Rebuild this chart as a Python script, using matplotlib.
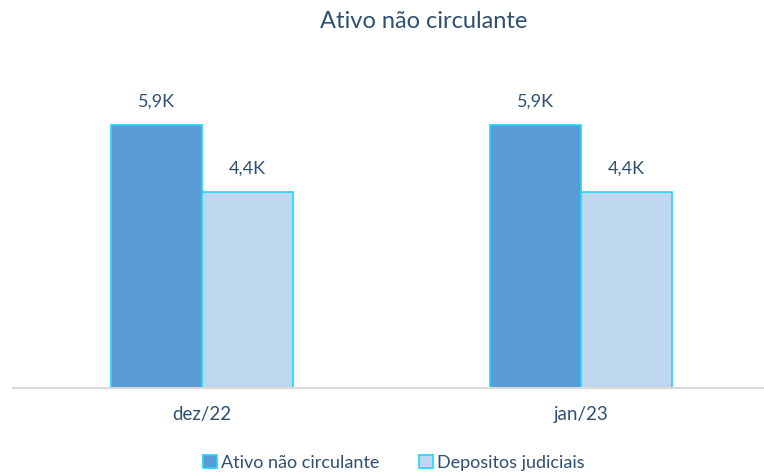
import matplotlib.pyplot as plt
import numpy as np
from matplotlib.patches import Patch

plt.rcParams['font.family'] = ['Lato', 'DejaVu Sans']

# Data
periods = ['dez/22', 'jan/23']
ativo = [5900, 5900]
depositos = [4400, 4400]
value_labels_ativo = ['5,9K', '5,9K']
value_labels_dep = ['4,4K', '4,4K']

dark = '#5B9BD5'
light = '#BDD7EE'
edge = '#1ED5FF'
txt = '#2E4F73'

fig = plt.figure(figsize=(7.64, 4.73), dpi=100)
ax = fig.add_axes([12.5 / 764, 1 - 388 / 473, 758 / 764, 328 / 473])

x = np.arange(len(periods))
w = 0.24
b1 = ax.bar(x - w / 2, ativo, w, color=dark, edgecolor=edge, linewidth=1.2, label='Ativo não circulante')
b2 = ax.bar(x + w / 2, depositos, w, color=light, edgecolor=edge, linewidth=1.2, label='Depositos judiciais')

for rect, lab in zip(b1, value_labels_ativo):
    ax.annotate(lab, (rect.get_x() + rect.get_width() / 2, rect.get_height()),
                xytext=(0, 17), textcoords='offset points', ha='center', va='center',
                color=txt, fontsize=13)
for rect, lab in zip(b2, value_labels_dep):
    ax.annotate(lab, (rect.get_x() + rect.get_width() / 2, rect.get_height()),
                xytext=(0, 17), textcoords='offset points', ha='center', va='center',
                color=txt, fontsize=13)

ax.set_xlim(-0.5, 1.5)
ax.set_ylim(0, 5900 * 328 / 263)
ax.set_xticks(x)
ax.set_xticklabels(periods, color=txt, fontsize=13.5)
ax.tick_params(axis='x', length=0, pad=13)
ax.set_yticks([])
for s in ['top', 'right', 'left']:
    ax.spines[s].set_visible(False)
ax.spines['bottom'].set_color('#D9D9D9')
ax.spines['bottom'].set_linewidth(1.5)

fig.text(424 / 764, 1 - 22 / 473, 'Ativo não circulante', ha='center', va='center',
         color=txt, fontsize=17)

handles = [Patch(facecolor=dark, edgecolor=edge, linewidth=1.2),
           Patch(facecolor=light, edgecolor=edge, linewidth=1.2)]
fig.legend(handles, ['Ativo não circulante', 'Depositos judiciais'], loc='center',
           bbox_to_anchor=(394 / 764, 1 - 463 / 473), ncol=2, frameon=False,
           fontsize=13, labelcolor=txt, handlelength=0.75, handleheight=0.75,
           handletextpad=0.25, columnspacing=2.2)

fig.savefig('out.png', dpi=100)
